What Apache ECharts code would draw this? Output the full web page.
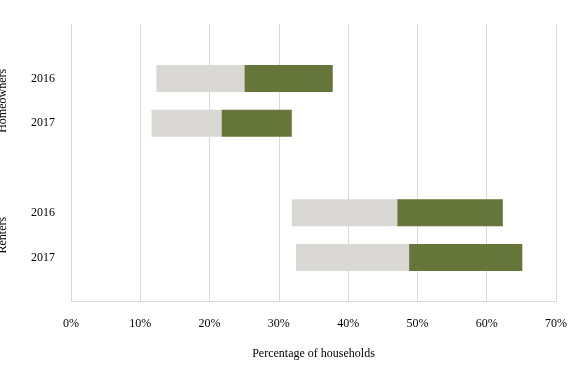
<!DOCTYPE html>
<html><head><meta charset="utf-8">
<script src="https://cdn.jsdelivr.net/npm/echarts@6/dist/echarts.min.js"></script>
<style>html,body{margin:0;padding:0;background:#fff}#c{width:570px;height:381px}</style>
</head><body><div id="c"></div>
<script>
const categories = ['2016', '2017', '', '2016', '2017'];
const groupNames = ['Homeowners', 'Renters'];
const groupMembers = [[0, 1], [3, 4]];
const startValues = [12.3, 11.6, null, 31.8, 32.4];
const lowerBand = [12.7, 10.1, null, 15.2, 16.3];
const upperBand = [12.7, 10.1, null, 15.2, 16.3];
const xMin = 0, xMax = 70, xStep = 10;
const xTitle = 'Percentage of households';

const FONT = '"Liberation Serif", "DejaVu Serif", serif';
const chart = echarts.init(document.getElementById('c'), null, {renderer: 'canvas'});
const option = {
  animation: false,
  backgroundColor: '#fff',
  textStyle: {fontFamily: FONT},
  grid: [
    {left: 71, right: 13, top: 24, bottom: 80},
    {left: 71, right: 13, top: 56, bottom: 101}
  ],
  xAxis: [
    {gridIndex: 0, type: 'value', min: xMin, max: xMax, interval: xStep,
     axisLine: {show: true, lineStyle: {color: '#d9d9d9', width: 1}},
     axisTick: {show: false},
     splitLine: {show: true, lineStyle: {color: '#d9d9d9', width: 1}},
     axisLabel: {formatter: '{value}%', color: '#000', fontSize: 12, margin: 17, fontFamily: FONT},
     name: xTitle, nameLocation: 'middle', nameGap: 47,
     nameTextStyle: {color: '#000', fontSize: 12, fontFamily: FONT}},
    {gridIndex: 1, type: 'value', min: xMin, max: xMax, interval: xStep, show: false,
     splitLine: {show: false}}
  ],
  yAxis: [
    {gridIndex: 0, type: 'category', data: categories, show: false},
    {gridIndex: 1, type: 'category', data: categories, inverse: true,
     axisLine: {show: false}, axisTick: {show: false}, splitLine: {show: false},
     axisLabel: {color: '#000', fontSize: 12, margin: 16, fontFamily: FONT}}
  ],
  series: [
    {type: 'bar', stack: 's', xAxisIndex: 1, yAxisIndex: 1, barWidth: 27, silent: true,
     itemStyle: {color: 'rgba(0,0,0,0)'}, data: startValues},
    {type: 'bar', stack: 's', xAxisIndex: 1, yAxisIndex: 1, barWidth: 27,
     itemStyle: {color: '#d9d8d4'}, data: lowerBand},
    {type: 'bar', stack: 's', xAxisIndex: 1, yAxisIndex: 1, barWidth: 27,
     itemStyle: {color: '#66763a'}, data: upperBand}
  ]
};
chart.setOption(option);
const graphics = groupNames.map((name, i) => {
  const ys = groupMembers[i].map(k => chart.convertToPixel({yAxisIndex: 1}, k));
  const yc = (ys[0] + ys[1]) / 2;
  return {type: 'text', x: 3, y: yc, rotation: Math.PI / 2,
    style: {text: name, fill: '#000', font: '12px ' + FONT, textAlign: 'center', textVerticalAlign: 'middle'}};
});
chart.setOption({graphic: graphics});
</script></body></html>
